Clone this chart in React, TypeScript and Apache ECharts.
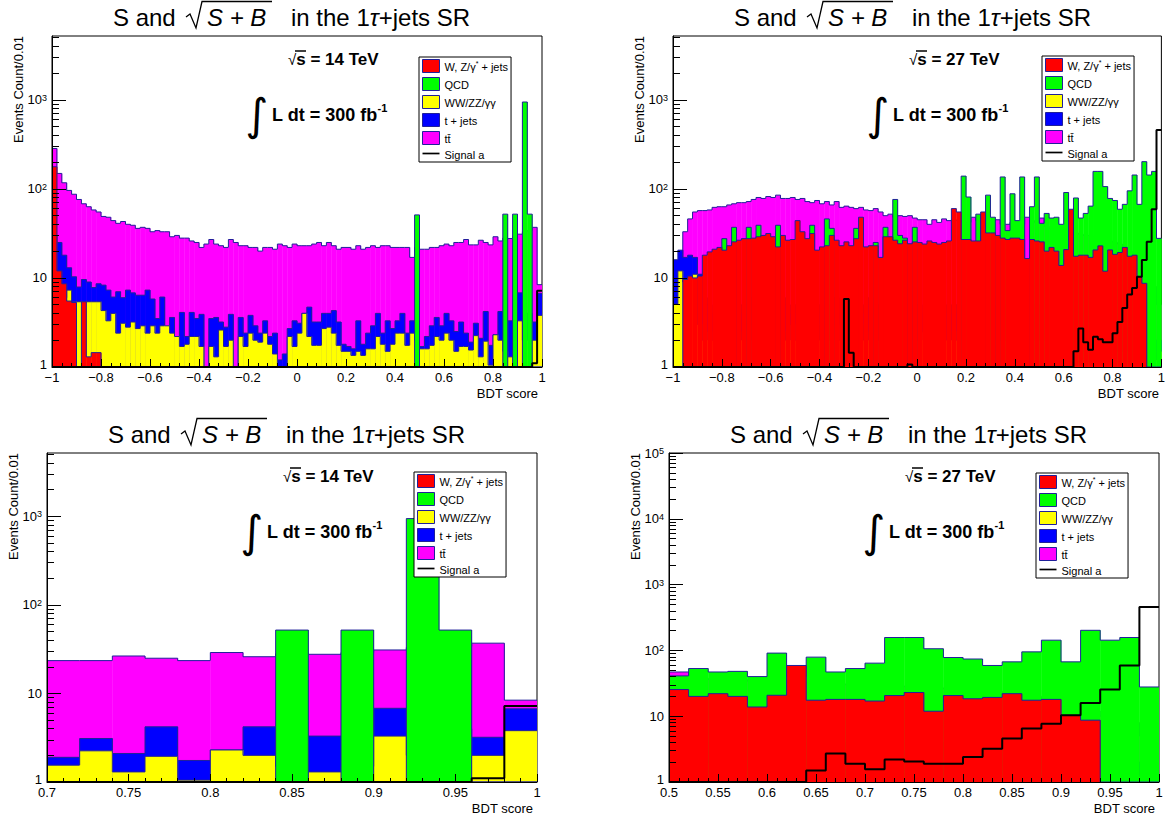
import React, { useEffect, useRef } from 'react';
import * as echarts from 'echarts';

const FONT = '"Liberation Sans", Arial, Helvetica, sans-serif';
const NAMES = ['W, Z/γ* + jets', 'QCD', 'WW/ZZ/γγ', 't + jets', 'tt̄', 'Signal a'];
const FILL = ['#ff0000', '#00ff00', '#ffff00', '#0000ff', '#ff00ff'];
const OUTLINE = '#20209a';
const BIN = 0.02;
const YMIN = 1;

// ---------- 14 TeV, BDT score -1 .. 1, bins of 0.02 ----------
const p1TT = [
  284, 149, 117, 96, 87, 76, 68, 63, 58, 55,
  49, 48, 44, 41, 43, 40, 39, 36, 37, 36,
  33, 34, 33, 33, 29, 30, 28, 28, 26, 25,
  22, 24, 27, 24, 23, 22, 27, 25, 23, 23,
  22, 22, 20, 22, 22, 21, 24, 23, 22, 24,
  23, 23, 23, 24, 25, 23, 25, 23, 21, 22,
  22, 21, 23, 21, 22, 23, 22, 23, 23, 22,
  22, 22, 22, 17, 22, 21, 21, 22, 22, 23,
  24, 23, 25, 25, 27, 23.5, 23.5, 26.5, 25, 23.5,
  29, 26, 28, 27.7, 29, 31, 33, 34, 37, 8.4,
];
const p1T = [
  30, 25, 18, 13, 10.3, 7.9, 9.6, 9, 7.8, 8.6,
  8.3, 7.3, 6.1, 7, 6, 7.3, 6.8, 6.4, 6.4, 7.3,
  5.8, 3.5, 6.1, 2.6, 3.6, 1.3, 4.1, 2.2, 4.1, 3.5,
  3.9, 1, 3.5, 3.6, 3.2, 2.8, 3.9, 1, 3.6, 2.4,
  3.8, 2.9, 2.4, 3.3, 2.2, 2.4, 1.2, 1.4, 2.7, 3.3,
  3.1, 4, 4.7, 3.2, 3.2, 4, 4, 4.3, 3.2, 1.8,
  1.7, 1.6, 3.3, 1.8, 2.4, 2.9, 4, 2.4, 3.3, 2.7,
  3.3, 4, 2.4, 3.3, 3, 1.7, 2.2, 2.9, 3.6, 2.9,
  4, 3.3, 2.5, 3.2, 2.4, 1.9, 3.1, 2.1, 4.2, 1.75,
  2.3, 4.2, 3, 3.3, 3, 6.8, 4, 4, 3.2, 6.7,
];
const p1WW = [
  5, 5, 6, 7.3, 5.4, 5.4, 5.4, 5.4, 5.4, 5.4,
  4.3, 3.3, 4, 2.4, 3.1, 2.8, 3.2, 2.7, 2.9, 2.4,
  2.9, 2.4, 2.9, 2.9, 2.4, 2.2, 1.7, 1.8, 2.2, 2.2,
  1.7, 1, 1.7, 1.3, 2.6, 1.7, 2, 1, 2.2, 1.7,
  2.4, 2, 1.9, 2.4, 1.8, 1.4, 1, 1, 2.2, 1.7,
  2.4, 4, 2.2, 1.75, 1.75, 2.7, 2.8, 2.4, 1.75, 1.5,
  1.5, 1.35, 1.5, 1.35, 1.6, 1.6, 2.2, 1.8, 1.5, 1.8,
  2.4, 2.4, 1.75, 2.4, 2, 1.6, 1.6, 1.75, 2.2, 2,
  2.4, 2, 1.5, 1.7, 1.7, 1.55, 2.25, 1.3, 1.95, 1.05,
  2.3, 2, 1.5, 1.3, 1.5, 3.3, 2, 2, 2, 3.8,
];
const p1QCD = [
  0, 0, 0, 0, 0, 0, 0, 0, 0, 0,
  0, 0, 0, 0, 0, 0, 0, 0, 0, 0,
  0, 0, 0, 0, 0, 0, 0, 0, 0, 0,
  0, 0, 0, 0, 0, 0, 0, 0, 0, 0,
  0, 0, 0, 0, 0, 0, 0, 0, 0, 0,
  0, 0, 0, 0, 0, 0, 0, 0, 0, 0,
  0, 0, 0, 0, 0, 0, 0, 0, 0, 0,
  0, 0, 0, 0, 51, 0, 0, 0, 0, 0,
  0, 0, 0, 0, 0, 0, 0, 0, 0, 0,
  0, 0, 52, 0, 52, 0, 944, 52, 0, 0,
];
const p1W = [
  177, 12, 8.6, 5.5, 5.3, 0, 5.4, 1.3, 1.45, 1.45,
  0, 0, 0, 0, 0, 0, 0, 0, 0, 0,
  0, 0, 0, 0, 0, 0, 0, 0, 0, 0,
  0, 0, 0, 0, 0, 0, 0, 0, 0, 0,
  0, 0, 0, 0, 0, 0, 0, 0, 0, 0,
  0, 0, 0, 0, 0, 0, 0, 0, 0, 0,
  0, 0, 0, 0, 0, 0, 0, 0, 0, 0,
  0, 0, 0, 0, 0, 0, 0, 0, 0, 0,
  0, 0, 0, 0, 0, 0, 0, 0, 0, 0,
  0, 0, 0, 0, 0, 0, 0, 0, 0, 0,
];
const p1Sig = [
  0, 0, 0, 0, 0, 0, 0, 0, 0, 0,
  0, 0, 0, 0, 0, 0, 0, 0, 0, 0,
  0, 0, 0, 0, 0, 0, 0, 0, 0, 0,
  0, 0, 0, 0, 0, 0, 0, 0, 0, 0,
  0, 0, 0, 0, 0, 0, 0, 0, 0, 0,
  0, 0, 0, 0, 0, 0, 0, 0, 0, 0,
  0, 0, 0, 0, 0, 0, 0, 0, 0, 0,
  0, 0, 0, 0, 0, 0, 0, 0, 0, 0,
  0, 0, 0, 0, 0, 0, 0, 0, 0, 0,
  0, 0, 0, 0, 0, 0, 0, 0, 1.1, 7.2,
];

// ---------- 27 TeV, BDT score -1 .. 1, bins of 0.02 ----------
const p2TT = [
  0, 0, 33, 46, 55, 57, 57, 58, 62, 63,
  63, 66, 68, 70, 70, 72, 76, 80, 78, 82,
  80, 85, 78, 78, 80, 76, 78, 72, 70, 74,
  68, 72, 66, 72, 62, 64, 62, 60, 62, 58,
  57, 60, 55, 50, 52, 48, 50, 49, 50, 47,
  45, 45, 40, 45, 42, 46, 44, 45, 44, 43,
  42, 48, 44, 45, 44, 44, 45, 40, 40, 42,
  40, 40, 48, 44, 42, 47, 38, 36, 36, 34,
  34, 33, 32, 31, 30, 30, 29, 28, 27, 26,
  25, 24, 22, 20, 18, 15, 12, 10, 8, 5,
];
const p2T = [
  16, 20.5, 17, 18, 17, 11, 6, 5, 4, 5,
  4, 5, 6, 4, 5, 4, 6, 5, 4, 5,
  5, 4, 6, 5, 4, 5, 6, 4, 5, 4,
  5, 4, 5, 6, 4, 5, 4, 5, 4, 5,
  6, 4, 5, 4, 5, 4, 5, 4, 5, 4,
  5, 4, 5, 4, 5, 4, 5, 4, 5, 4,
  5, 4, 5, 4, 5, 4, 5, 4, 5, 4,
  5, 4, 3, 4, 5, 4, 3, 4, 3, 4,
  3, 4, 5, 4, 3, 4, 3, 3, 4, 3,
  4, 3, 4, 3, 3, 4, 3, 3, 2, 2,
];
const p2WW = [
  5.1, 12, 9, 10, 11, 3, 2, 2.5, 2, 3,
  2, 2.5, 3, 2, 2.5, 2, 3, 2.5, 2, 2,
  3, 2, 2.5, 2, 3, 2, 2.5, 2, 2, 3,
  2, 2.5, 2, 3, 2, 2, 2.5, 2, 3, 2,
  2.5, 2, 2, 3, 2, 2.5, 2, 2, 3, 2,
  2, 2.5, 2, 2, 3, 2, 2, 2.5, 2, 2,
  3, 2, 2, 2.5, 2, 2, 3, 2, 2, 2.5,
  2, 2, 1.5, 2, 2, 2.5, 2, 2, 1.5, 2,
  2, 1.5, 2, 2, 1.5, 2, 2, 1.5, 2, 1.5,
  2, 1.5, 1.5, 2, 1.5, 1.5, 1.5, 1.2, 1.2, 1.5,
];
const p2QCD = [
  0, 0, 0, 0, 0, 0, 0, 0, 0, 0,
  27.6, 0, 37, 0, 0, 37, 0, 39, 0, 0,
  0, 39, 0, 0, 0, 0, 0, 0, 39, 0,
  0, 46, 36, 0, 0, 0, 0, 36, 0, 0,
  0, 25, 0, 37, 0, 76, 30, 28, 0, 37,
  0, 0, 0, 0, 0, 0, 0, 0, 0, 139,
  81, 0, 52, 0, 85, 48, 0, 136, 34, 88,
  44, 136, 0, 63, 136, 41, 53, 47, 48, 40,
  91, 40, 79, 47, 53, 64, 157, 157, 106, 78,
  74, 59, 67, 95, 143, 67, 202, 143, 157, 27.8,
];
const p2W = [
  0, 0, 9.6, 10.5, 10, 10.5, 18, 19.6, 21, 22,
  20.5, 23, 25.4, 26.5, 27.6, 27.6, 28, 29, 30, 31.5,
  29, 22.3, 30, 26.5, 27, 44, 33, 27.6, 31.5, 20.5,
  22.3, 23, 30, 26.5, 23, 25.4, 23, 27.6, 48, 22.3,
  23, 23, 17, 29, 29, 26.5, 24.2, 26.5, 24.2, 25.4,
  25, 24, 26, 25, 24, 25, 26, 60, 55, 27,
  27, 26, 26, 55, 32, 32, 30, 28, 27, 28,
  28, 27, 16.5, 27, 26, 25.4, 20, 22, 20, 13.8,
  20.8, 59, 17.5, 18, 18, 17, 20.6, 22.9, 11.9, 20.6,
  18.4, 19.3, 22, 17.5, 18, 10.3, 8.7, 0, 0, 0,
];
const p2Sig = [
  0, 0, 0, 0, 0, 0, 0, 0, 0, 0,
  0, 0, 0, 0, 0, 0, 0, 0, 0, 0,
  0, 0, 0, 0, 0, 0, 0, 0, 0, 0,
  0, 0, 0, 0, 0, 5.8, 1.45, 0, 0, 0,
  0, 0, 0, 0, 0, 0, 0, 0, 1.07, 0,
  0, 0, 0, 0, 0, 0, 0, 0, 0, 0,
  0, 0, 0, 0, 0, 0, 0, 0, 0, 0,
  0, 0, 0, 0, 0, 0, 0, 0, 0, 0,
  0, 0, 1.5, 2.7, 1.9, 1.56, 2.19, 2.05, 1.9, 1.9,
  2.4, 3.2, 4.6, 6.5, 7.7, 10.3, 15.9, 25.4, 59, 457,
];

// zoomed panels reuse the same 0.02 bins
const P3_FIRST_BIN = 85; // BDT 0.70
const P4_FIRST_BIN = 75; // BDT 0.50

const Y_MAJOR_LOW = [1, 10, 100, 1000];
const Y_MAJOR_HIGH = [1, 10, 100, 1000, 10000, 100000];
const MINOR_MULT = [2, 3, 4, 5, 6, 7, 8, 9];

const GRIDS = [
  { left: 52, top: 36, width: 490, height: 331 },
  { left: 673, top: 36, width: 490, height: 331 },
  { left: 47, top: 453, width: 490, height: 329 },
  { left: 669, top: 453, width: 490, height: 329 },
];
const LEGEND_POS = [
  { left: 419, top: 57 },
  { left: 1042, top: 56 },
  { left: 414, top: 472 },
  { left: 1036, top: 473 },
];

const sl = (a: number[], k: number) => a.slice(k);

const PANELS = [
  { w: p1W, qcd: p1QCD, ww: p1WW, t: p1T, tt: p1TT, sig: p1Sig, x0: -1, x1: 1, interval: 0.2, ymax: 5200, majors: Y_MAJOR_LOW, energy: '14', xNameGap: 26 },
  { w: p2W, qcd: p2QCD, ww: p2WW, t: p2T, tt: p2TT, sig: p2Sig, x0: -1, x1: 1, interval: 0.2, ymax: 5200, majors: Y_MAJOR_LOW, energy: '27', xNameGap: 26 },
  {
    w: sl(p1W, P3_FIRST_BIN), qcd: sl(p1QCD, P3_FIRST_BIN), ww: sl(p1WW, P3_FIRST_BIN), t: sl(p1T, P3_FIRST_BIN),
    tt: sl(p1TT, P3_FIRST_BIN), sig: sl(p1Sig, P3_FIRST_BIN), x0: 0.7, x1: 1, interval: 0.05, ymax: 5200, majors: Y_MAJOR_LOW, energy: '14', xNameGap: 26,
  },
  {
    w: sl(p2W, P4_FIRST_BIN), qcd: sl(p2QCD, P4_FIRST_BIN), ww: sl(p2WW, P4_FIRST_BIN), t: sl(p2T, P4_FIRST_BIN),
    tt: sl(p2TT, P4_FIRST_BIN), sig: sl(p2Sig, P4_FIRST_BIN), x0: 0.5, x1: 1, interval: 0.05, ymax: 100000, majors: Y_MAJOR_HIGH, energy: '27', xNameGap: 26,
  },
];

const rnd = (x: number) => Math.round(x * 10000) / 10000;

function histData(vals: number[], x0: number) {
  return vals.map((v, i) => [rnd(x0 + i * BIN), rnd(x0 + (i + 1) * BIN), v, i > 0 ? vals[i - 1] : 0]);
}

function binRenderer(color: string) {
  return (params: any, api: any) => {
    const xa = api.value(0);
    const xb = api.value(1);
    const v = api.value(2);
    const vp = api.value(3);
    const yv = Math.max(v, YMIN);
    const yp = Math.max(vp, YMIN);
    const bl = api.coord([xa, YMIN]);
    const tr = api.coord([xb, yv]);
    const pp = api.coord([xa, yp]);
    const children: any[] = [];
    if (v > YMIN) {
      children.push({
        type: 'rect',
        shape: { x: bl[0], y: tr[1], width: tr[0] - bl[0] + 0.4, height: bl[1] - tr[1] },
        style: { fill: color },
      });
    }
    children.push({
      type: 'polyline',
      shape: { points: [[bl[0], pp[1]], [bl[0], tr[1]], [tr[0], tr[1]]] },
      style: { stroke: OUTLINE, lineWidth: 1, fill: 'none' },
    });
    return { type: 'group', children };
  };
}

const yFmt = (v: number) => {
  const e = Math.round(Math.log10(v));
  if (e === 0) return '{d|1}';
  if (e === 1) return '{c|10}';
  return '{b|10}{s|' + e + '}';
};
const xFmt = (v: number) => String(rnd(v)).replace('-', '\u2212');

const LEGEND_RICH = {
  a: { fontSize: 11, fontFamily: FONT, color: '#000', lineHeight: 13, verticalAlign: 'bottom' },
  s: { fontSize: 7, fontFamily: FONT, color: '#000', lineHeight: 7, verticalAlign: 'top' },
};
const legendFmt = (name: string) => (name === NAMES[0] ? '{a|W, Z/γ}{s|*}{a| + jets}' : '{a|' + name + '}');

function buildOption() {
  const grid: any[] = [];
  const xAxis: any[] = [];
  const yAxis: any[] = [];
  const series: any[] = [];
  const legend: any[] = [];
  const graphics: any[] = [];

  PANELS.forEach((p, k) => {
    const g = GRIDS[k];
    grid.push({ ...g, show: true, borderColor: '#000', borderWidth: 1, backgroundColor: '#fff', containLabel: false });

    xAxis.push({
      gridIndex: k, type: 'value', min: p.x0, max: p.x1, interval: p.interval, z: 10,
      axisLine: { onZero: false, lineStyle: { color: '#000', width: 1 } },
      axisTick: { inside: true, length: 8, lineStyle: { color: '#000' } },
      minorTick: { show: true, splitNumber: 5, length: 4, lineStyle: { color: '#000' } },
      splitLine: { show: false },
      minorSplitLine: { show: false },
      axisLabel: { color: '#000', fontSize: 13, lineHeight: 11, fontFamily: FONT, margin: 5, formatter: xFmt },
    });

    const minors: number[] = [];
    p.majors.forEach((m) => MINOR_MULT.forEach((f) => { if (m * f <= p.ymax) minors.push(m * f); }));

    yAxis.push({
      gridIndex: k, type: 'log', logBase: 10, min: YMIN, max: p.ymax, position: 'left', z: 10,
      axisLine: { show: true, onZero: false, lineStyle: { color: '#000', width: 1 } },
      axisTick: { inside: true, length: 14, lineStyle: { color: '#000' }, customValues: p.majors },
      splitLine: { show: false },
      axisLabel: {
        customValues: p.majors, formatter: yFmt, margin: 5,
        rich: {
          d: { fontSize: 13, fontFamily: FONT, color: '#000', lineHeight: 9, padding: [0, 0, 6, 0] },
          c: { fontSize: 13, fontFamily: FONT, color: '#000', lineHeight: 9 },
          b: { fontSize: 13, fontFamily: FONT, color: '#000', lineHeight: 13, verticalAlign: 'bottom' },
          s: { fontSize: 9, fontFamily: FONT, color: '#000', lineHeight: 9, verticalAlign: 'top' },
        },
      },
    });
    yAxis.push({
      gridIndex: k, type: 'log', logBase: 10, min: YMIN, max: p.ymax, position: 'left', offset: 0, z: 10,
      axisLine: { show: false, onZero: false },
      axisTick: { inside: true, length: 7, lineStyle: { color: '#000' }, customValues: minors },
      axisLabel: { show: false },
      splitLine: { show: false },
    });

    const layers: [number, number[]][] = [[4, p.tt], [3, p.t], [2, p.ww], [1, p.qcd], [0, p.w]];
    layers.forEach(([ni, vals]) => {
      series.push({
        type: 'custom', name: NAMES[ni], xAxisIndex: k, yAxisIndex: 2 * k, clip: true,
        itemStyle: { color: FILL[ni] },
        encode: { x: [0, 1], y: 2 },
        renderItem: binRenderer(FILL[ni]),
        data: histData(vals, p.x0),
      });
    });
    const sigPts = p.sig.map((v, i) => [rnd(p.x0 + i * BIN), Math.max(v, YMIN)]);
    sigPts.push([p.x1, Math.max(p.sig[p.sig.length - 1], YMIN)]);
    series.push({
      type: 'line', name: NAMES[5], xAxisIndex: k, yAxisIndex: 2 * k, step: 'end', symbol: 'none', showSymbol: false,
      itemStyle: { color: '#000' }, lineStyle: { color: '#000', width: 2 }, data: sigPts, z: 5,
    });

    legend.push({
      ...LEGEND_POS[k], orient: 'vertical', selectedMode: false,
      itemWidth: 17, itemHeight: 13, itemGap: 4, padding: [2, 3, 2, 3],
      borderColor: '#000', borderWidth: 1, backgroundColor: '#fff',
      textStyle: { fontSize: 11, fontFamily: FONT, color: '#000', width: 66, overflow: 'none', rich: LEGEND_RICH },
      formatter: legendFmt,
      data: [
        ...[0, 1, 2, 3, 4].map((i) => ({ name: NAMES[i], icon: 'rect', itemStyle: { color: FILL[i], borderColor: OUTLINE, borderWidth: 1 } })),
        { name: NAMES[5], icon: 'path://M0,0 L40,0 L40,4 L0,4 Z', itemStyle: { color: '#000', borderWidth: 0 } },
      ],
    });

    const cx = g.left + g.width / 2;
    const ty = g.top - 36;
    const L = g.left;
    const T = g.top;
    graphics.push(
      { type: 'text', x: cx - 184, y: ty + 17, style: { text: 'S and', fontSize: 24, fontFamily: FONT, fill: '#000', align: 'left', verticalAlign: 'middle' } },
      { type: 'text', x: cx - 90, y: ty + 17, style: { text: 'S + B', fontSize: 24, fontStyle: 'italic', fontFamily: FONT, fill: '#000', align: 'left', verticalAlign: 'middle' } },
      {
        type: 'text', x: cx - 6, y: ty + 17,
        style: {
          text: '{n|in the 1}{i|τ}{n|+jets SR}', fill: '#000', align: 'left', verticalAlign: 'middle',
          rich: { n: { fontSize: 24, fontFamily: FONT, fill: '#000' }, i: { fontSize: 24, fontStyle: 'italic', fontFamily: FONT, fill: '#000' } },
        },
      },
      { type: 'polyline', shape: { points: [[cx - 111, ty + 17], [cx - 107, ty + 14], [cx - 101, ty + 28], [cx - 95, ty + 1.5], [cx - 25, ty + 1.5]] }, style: { stroke: '#000', lineWidth: 1.3, fill: 'none' } },
      {
        type: 'text', x: L + 236, y: T + 23, z: 20,
        style: {
          text: '{r|√}{b|s = ' + p.energy + ' TeV}', fill: '#000', align: 'left', verticalAlign: 'middle',
          rich: { r: { fontSize: 15, fontFamily: FONT, fill: '#000' }, b: { fontSize: 17, fontWeight: 'bold', fontFamily: FONT, fill: '#000' } },
        },
      },
      { type: 'line', z: 20, shape: { x1: L + 243, y1: T + 15, x2: L + 254, y2: T + 15 }, style: { stroke: '#000', lineWidth: 1.5 } },
      { type: 'text', x: L + 205, y: T + 78, z: 20, style: { text: '∫', fontSize: 44, fontFamily: '"DejaVu Sans", sans-serif', fill: '#000', align: 'center', verticalAlign: 'middle' } },
      {
        type: 'text', x: L + 220, y: T + 77, z: 20,
        style: {
          text: '{b|L dt = 300 fb}{s|-1}', fill: '#000', align: 'left', verticalAlign: 'middle',
          rich: {
            b: { fontSize: 18, fontWeight: 'bold', fontFamily: FONT, fill: '#000', lineHeight: 22, verticalAlign: 'bottom' },
            s: { fontSize: 11, fontWeight: 'bold', fontFamily: FONT, fill: '#000', lineHeight: 11, verticalAlign: 'top' },
          },
        },
      },
      { type: 'text', x: L - 34, y: T, rotation: Math.PI / 2, style: { text: 'Events Count/0.01', fontSize: 13, fontFamily: FONT, fill: '#000', align: 'right', verticalAlign: 'middle' } },
      { type: 'text', x: L + g.width - 4, y: T + g.height + p.xNameGap, style: { text: 'BDT score', fontSize: 13, lineHeight: 11, fontFamily: FONT, fill: '#000', align: 'right', verticalAlign: 'middle' } },
    );
  });

  return {
    animation: false,
    backgroundColor: '#fff',
    textStyle: { fontFamily: FONT },
    grid, xAxis, yAxis, series, legend,
    graphic: { elements: graphics },
  };
}

export default function App() {
  const ref = useRef<HTMLDivElement>(null);
  useEffect(() => {
    const chart = echarts.init(ref.current as HTMLDivElement, null, { renderer: 'svg' });
    chart.setOption(buildOption() as any);
    return () => chart.dispose();
  }, []);
  return <div ref={ref} style={{ position: 'absolute', left: 0, top: 0, width: 1168, height: 818, background: '#fff' }} />;
}
